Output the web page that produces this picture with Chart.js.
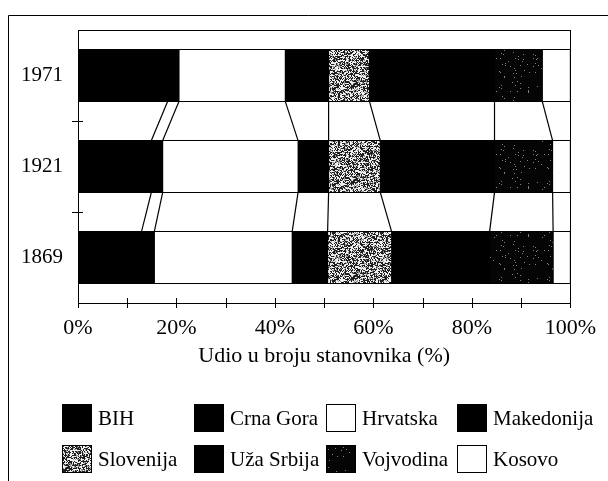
<!DOCTYPE html>
<html>
<head>
<meta charset="utf-8">
<script src="https://cdn.jsdelivr.net/npm/chart.js@4"></script>
<style>
  html, body { margin: 0; padding: 0; background: #fff; }
  #wrap { width: 608px; height: 481px; position: relative; }
</style>
</head>
<body>
<div id="wrap"><canvas id="chart" width="608" height="481"></canvas></div>
<script>
// data (percent of population)
const years = ['1971', '1921', '1869'];
const regions = ['BIH', 'Crna Gora', 'Hrvatska', 'Makedonija', 'Slovenija', 'Uža Srbija', 'Vojvodina', 'Kosovo'];
const bih        = [18.2, 14.9, 12.9];
const crnaGora   = [2.3, 2.3, 2.6];
const hrvatska   = [21.6, 27.5, 28.0];
const makedonija = [8.8, 6.2, 7.2];
const slovenija  = [8.3, 10.5, 13.0];
const uzaSrbija  = [25.4, 23.2, 19.9];
const vojvodina  = [9.7, 11.8, 12.9];
const kosovo     = [5.7, 3.6, 3.5];
const xTickLabels = [0, 20, 40, 60, 80, 100];

const serif = 'Liberation Serif';

// fixed speckle textures for the scanned fills
function speck(x, y, seed) {
  let h = (x * 374761393 + y * 668265263 + seed * 144665) | 0;
  h = Math.imul(h ^ (h >>> 13), 1274126177);
  h ^= h >>> 16;
  return (h >>> 0) / 4294967296;
}
function makePattern(seed, shade) {
  const c = document.createElement('canvas');
  c.width = 48; c.height = 48;
  const g = c.getContext('2d');
  const img = g.createImageData(48, 48);
  for (let y = 0; y < 48; y++) {
    for (let x = 0; x < 48; x++) {
      const v = shade(speck(x, y, seed));
      const i = (y * 48 + x) * 4;
      img.data[i] = img.data[i + 1] = img.data[i + 2] = v;
      img.data[i + 3] = 255;
    }
  }
  g.putImageData(img, 0, 0);
  return g.createPattern(c, 'repeat');
}
const stipple = makePattern(7, r => r < 0.45 ? 30 : (r < 0.6 ? 150 : 240));
const darkStipple = makePattern(3, r => r < 0.025 ? 130 : 5);

const series = [bih, crnaGora, hrvatska, makedonija, slovenija, uzaSrbija, vojvodina, kosovo];
const fills = ['#000', '#000', '#fff', '#000', stipple, '#000', darkStipple, '#fff'];

// legend layout
const legendCols = [62, 194, 326, 457];
const legendRows = [418, 459];

const decor = {
  id: 'decor',
  beforeDraw(chart) {
    const ctx = chart.ctx;
    ctx.save();
    ctx.strokeStyle = '#000';
    ctx.lineWidth = 1;
    ctx.beginPath();
    ctx.moveTo(8.5, 481);
    ctx.lineTo(8.5, 15.5);
    ctx.lineTo(608, 15.5);
    ctx.stroke();
    ctx.restore();
  },
  afterDatasetsDraw(chart) {
    const ctx = chart.ctx;
    const a = chart.chartArea;
    const xs = chart.scales.x, ys = chart.scales.y;
    ctx.save();
    ctx.strokeStyle = '#000';

    // lines joining the segment ends of neighbouring bars
    ctx.lineWidth = 1.2;
    for (let d = 0; d < series.length - 1; d++) {
      const bars = chart.getDatasetMeta(d).data;
      for (let i = 0; i < bars.length - 1; i++) {
        const up = bars[i], down = bars[i + 1];
        ctx.beginPath();
        ctx.moveTo(up.x, up.y + up.height / 2);
        ctx.lineTo(down.x, down.y - down.height / 2);
        ctx.stroke();
      }
    }

    // plot frame
    ctx.lineWidth = 1;
    ctx.strokeRect(Math.round(a.left) + 0.5, Math.round(a.top) + 0.5,
      Math.round(a.right - a.left), Math.round(a.bottom - a.top));

    // x ticks crossing the axis
    ctx.beginPath();
    xs.ticks.forEach(t => {
      const px = Math.round(xs.getPixelForValue(t.value)) + 0.5;
      ctx.moveTo(px, a.bottom - 5);
      ctx.lineTo(px, a.bottom + 5);
    });
    // y ticks between categories
    for (let i = 0; i < years.length - 1; i++) {
      const py = Math.round((ys.getPixelForValue(i) + ys.getPixelForValue(i + 1)) / 2) + 0.5;
      ctx.moveTo(a.left - 6, py);
      ctx.lineTo(a.left + 5, py);
    }
    ctx.stroke();
    ctx.restore();
  },
  afterDraw(chart) {
    const ctx = chart.ctx;
    ctx.save();
    ctx.font = '21px "' + serif + '"';
    ctx.textBaseline = 'middle';
    chart.data.datasets.forEach((ds, i) => {
      const x = legendCols[i % 4];
      const y = legendRows[Math.floor(i / 4)];
      ctx.fillStyle = ds.backgroundColor;
      ctx.fillRect(x, y - 14, 30, 28);
      ctx.strokeStyle = '#000';
      ctx.lineWidth = 1;
      ctx.strokeRect(x + 0.5, y - 13.5, 29, 27);
      ctx.fillStyle = '#000';
      ctx.fillText(ds.label, x + 36, y + 1);
    });
    ctx.restore();
  }
};

new Chart(document.getElementById('chart'), {
  type: 'bar',
  data: {
    labels: years,
    datasets: series.map((vals, i) => ({
      label: regions[i],
      data: vals,
      backgroundColor: fills[i],
      borderColor: '#000',
      borderWidth: 1,
      borderSkipped: false,
      inflateAmount: 0.5,
      barPercentage: 0.57,
      categoryPercentage: 1
    }))
  },
  options: {
    indexAxis: 'y',
    responsive: false,
    animation: false,
    events: [],
    layout: { padding: { top: 30, right: 35, bottom: 112, left: 0 } },
    plugins: {
      legend: { display: false },
      tooltip: { enabled: false }
    },
    scales: {
      x: {
        stacked: true,
        min: 0,
        max: 100,
        ticks: {
          stepSize: 10,
          autoSkip: false,
          maxRotation: 0,
          color: '#000',
          font: { family: serif, size: 22 },
          padding: 12,
          callback: v => xTickLabels.includes(v) ? v + '%' : ''
        },
        grid: { display: false, drawTicks: false },
        border: { display: false },
        title: {
          display: true,
          text: 'Udio u broju stanovnika (%)',
          color: '#000',
          font: { family: serif, size: 22 },
          padding: 0
        },
        afterFit: s => { s.height = 66; }
      },
      y: {
        stacked: true,
        ticks: {
          color: '#000',
          font: { family: serif, size: 21 },
          padding: 15
        },
        grid: { display: false, drawTicks: false },
        border: { display: false },
        afterFit: s => { s.width = 78; }
      }
    }
  },
  plugins: [decor]
});
</script>
</body>
</html>
